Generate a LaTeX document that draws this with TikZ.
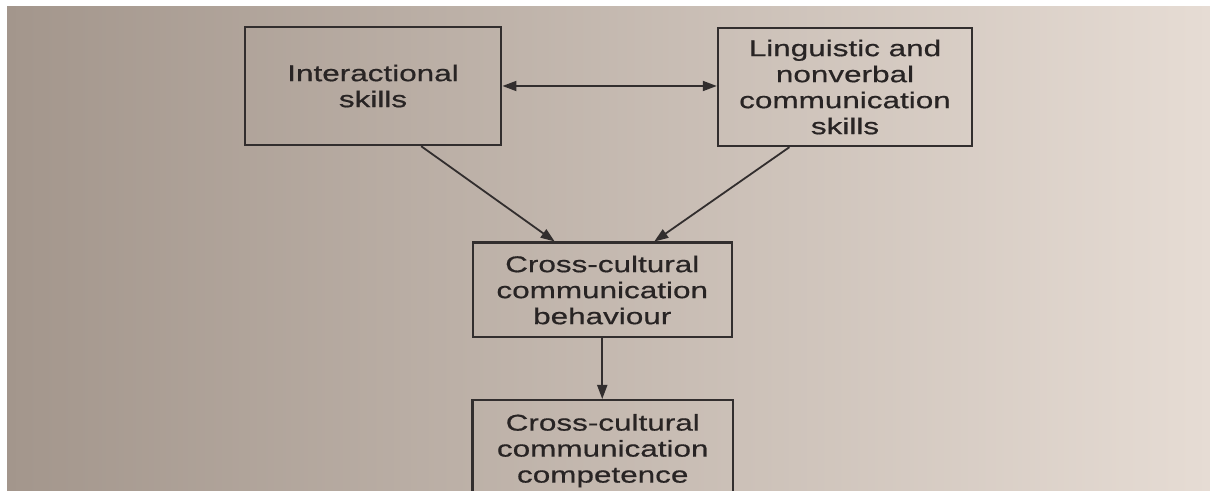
\documentclass[tikz,border=0pt]{standalone}
\usepackage{fontspec}
\newfontfamily\diagfont[FakeStretch=1.38,FakeBold=0.6]{Liberation Sans}
\usetikzlibrary{arrows.meta,calc}
\definecolor{paperL}{RGB}{163,150,140}
\definecolor{paperM}{RGB}{196,190,184}
\definecolor{paperR}{RGB}{230,220,212}
\definecolor{ink}{RGB}{40,36,36}
\definecolor{lineink}{RGB}{50,46,46}
\tikzset{
  box/.style={draw=lineink, line width=1.2pt, align=center, text=ink, inner sep=0pt,
    font=\diagfont\fontsize{11.4pt}{13pt}\selectfont},
  conn/.style={draw=lineink, line width=0.9pt, -{Triangle[length=7pt,width=5pt]}},
  biconn/.style={draw=lineink, line width=0.9pt, {Triangle[length=7pt,width=5pt]}-{Triangle[length=7pt,width=5pt]}}
}
\begin{document}
\begin{tikzpicture}[x=0.5pt,y=-0.5pt]
\useasboundingbox (0,0) rectangle (1210,491);
\clip (0,0) rectangle (1210,491);
\fill[white] (0,0) rectangle (1210,491);
\shade[left color=paperL, middle color=paperM, right color=paperR] (7,7) rectangle (1210,491);

\node[box, minimum width=128.25pt, minimum height=59pt] (A) at (373,86) {Interactional\\skills};
\node[box, minimum width=127pt, minimum height=59pt] (L) at (845,87) {Linguistic and\\nonverbal\\communication\\skills};
\node[box, minimum width=129.5pt, minimum height=47.3pt] (B) at (602.25,290) {Cross-cultural\\communication\\behaviour};
\node[box, anchor=north, minimum width=130.25pt, minimum height=50.5pt] (C) at (602.75,399) {Cross-cultural\\communication\\competence};

\draw[biconn] (A.east) -- (A.east -| L.west);
\draw[conn] ($(A.south west)!0.686!(A.south east)$) -- ($(B.north west)!0.318!(B.north east)$);
\draw[conn] ($(L.south west)!0.283!(L.south east)$) -- ($(B.north west)!0.699!(B.north east)$);
\draw[conn] (B.south) -- (B.south |- C.north);
\end{tikzpicture}
\end{document}
